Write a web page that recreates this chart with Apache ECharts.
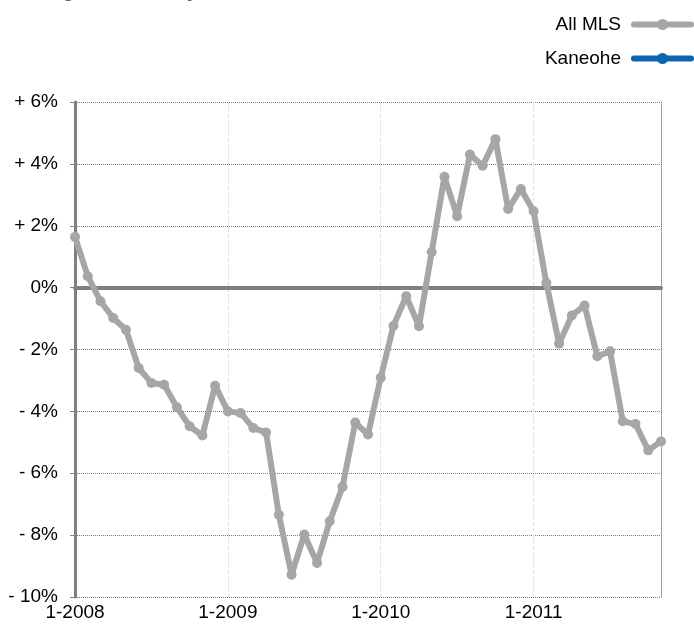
<!DOCTYPE html>
<html>
<head>
<meta charset="utf-8">
<script src="https://cdn.jsdelivr.net/npm/echarts@6/dist/echarts.min.js"></script>
<style>
  html, body { margin: 0; padding: 0; background: #fff; }
  #chart { width: 694px; height: 628px; }
</style>
</head>
<body>
<div id="chart"></div>
<script>
// monthly change, 1-2008 .. 11-2011
let months = [];
for (let y = 2008; y <= 2011; y++) {
    for (let m = 1; m <= 12; m++) {
        months.push(m + '-' + y);
    }
}
months = months.slice(0, 47);

let allMls = [
    1.64, 0.37, -0.44, -0.98, -1.36, -2.6, -3.08, -3.14, -3.87, -4.48, -4.78, -3.17,
    -4.0, -4.05, -4.54, -4.68, -7.34, -9.28, -7.98, -8.9, -7.55, -6.44, -4.36, -4.75,
    -2.91, -1.23, -0.28, -1.25, 1.15, 3.58, 2.31, 4.3, 3.94, 4.8, 2.54, 3.19,
    2.47, 0.15, -1.81, -0.9, -0.58, -2.22, -2.06, -4.32, -4.41, -5.26, -4.97
];
let kaneohe = [];

var dom = document.getElementById('chart');
var myChart = echarts.init(dom);
var font = 'Liberation Sans, Arial, sans-serif';

var option = {
    animation: false,
    title: {
        text: 'Change in Inventory',
        left: 10,
        top: -23,
        textStyle: { color: '#1068b4', fontSize: 19, fontWeight: 'bold', fontFamily: font }
    },
    legend: {
        orient: 'vertical',
        right: 0,
        top: 15,
        padding: 0,
        align: 'right',
        itemWidth: 57,
        itemHeight: 14,
        itemGap: 15,
        lineStyle: { width: 6, cap: 'round' },
        textStyle: { fontSize: 19, color: '#000', fontFamily: font, padding: [0, 8, 0, 0] },
        data: ['All MLS', 'Kaneohe']
    },
    grid: { left: 75, right: 33, top: 102, bottom: 31 },
    xAxis: [{
        type: 'category',
        data: months,
        boundaryGap: false,
        axisLine: { show: false },
        axisTick: { show: false },
        axisLabel: {
            interval: 11,
            color: '#000',
            fontSize: 19,
            fontFamily: font,
            margin: 6
        },
        splitLine: {
            show: true,
            interval: 11,
            lineStyle: { color: '#e2e2e2', type: 'dashed', width: 1 }
        }
    }, {
        type: 'category',
        data: months,
        boundaryGap: false,
        position: 'bottom',
        axisLine: { show: true, onZero: true, lineStyle: { color: '#808080', width: 4 } },
        axisTick: { show: false },
        axisLabel: { show: false },
        splitLine: { show: false }
    }],
    yAxis: [{
        type: 'value',
        min: -10,
        max: 6,
        interval: 2,
        axisLine: { show: true, lineStyle: { color: '#808080', width: 3 } },
        axisTick: { show: true, length: 5, lineStyle: { color: '#808080', width: 1 } },
        axisLabel: {
            color: '#000',
            fontSize: 19,
            fontFamily: font,
            margin: 17,
            formatter: function (v) {
                if (v > 0) return '+ ' + v + '%';
                if (v < 0) return '- ' + Math.abs(v) + '%';
                return '0%';
            }
        },
        splitLine: { lineStyle: { color: '#777', type: 'dotted', width: 1 } }
    }, {
        type: 'value',
        min: -10,
        max: 6,
        interval: 2,
        position: 'right',
        axisLine: { show: true, lineStyle: { color: '#888', type: 'dotted', width: 1 } },
        axisTick: { show: false },
        axisLabel: { show: false },
        splitLine: { show: false }
    }],
    series: [{
        name: 'All MLS',
        type: 'line',
        data: allMls,
        color: '#a6a6a6',
        symbol: 'circle',
        symbolSize: 10,
        showSymbol: true,
        showAllSymbol: true,
        z: 5,
        lineStyle: { width: 6, color: '#a6a6a6', cap: 'round', join: 'round' },
        itemStyle: { color: '#a6a6a6' }
    }, {
        name: 'Kaneohe',
        type: 'line',
        data: kaneohe,
        color: '#0a66b0',
        symbol: 'circle',
        symbolSize: 10,
        lineStyle: { width: 6, color: '#0a66b0', cap: 'round' },
        itemStyle: { color: '#0a66b0' }
    }]
};

if (option && typeof option === 'object') {
    myChart.setOption(option);
}
</script>
</body>
</html>
